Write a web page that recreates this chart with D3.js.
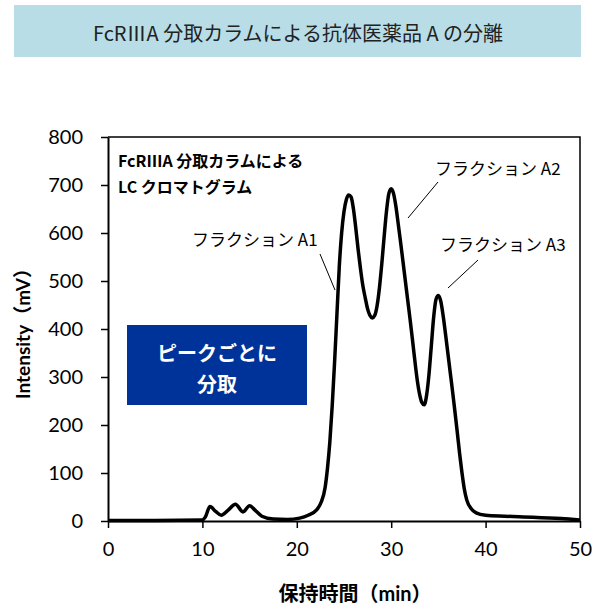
<!DOCTYPE html>
<html>
<head>
<meta charset="utf-8">
<script src="https://cdn.jsdelivr.net/npm/d3@7/dist/d3.min.js"></script>
<style>
  html, body { margin: 0; padding: 0; background: #fff; }
  svg { display: block; }
</style>
</head>
<body>
<svg id="chart" width="593" height="610"></svg>
<script>
// Chromatogram trace: retention time (min) and detector signal (mV)
const retentionTime = [0, 5, 10, 10.3, 10.8, 11.4, 12.0, 12.7, 13.5, 14.3, 15.0, 15.6, 16.3, 17.5, 19, 20.3, 21.2, 22.1, 22.6,
  23.0, 23.25, 23.5, 23.75, 24.0, 24.25, 24.5, 24.75, 25.0, 25.25, 25.5, 25.75, 26.0, 26.25, 26.5, 26.75,
  27.0, 27.25, 27.5, 27.75, 28.0, 28.25, 28.5, 28.75, 29.0, 29.25, 29.5, 29.75, 30.0, 30.25, 30.5, 30.75,
  31.0, 31.25, 31.5, 31.75, 32.0, 32.25, 32.5, 32.75, 33.0, 33.25, 33.5, 33.75, 34.0, 34.25, 34.5, 34.75,
  35.0, 35.25, 35.5, 35.75, 36.0, 36.25, 36.5, 36.75, 37.0, 37.25, 37.5, 37.75, 38.0, 38.5, 39, 40, 42, 45, 48, 50];
const intensity = [1, 1, 2, 8, 30, 20, 12, 22, 35, 19, 32, 22, 10, 4, 3, 6, 12, 23, 40,
  70, 110, 165, 240, 330, 430, 530, 600, 645, 670, 679, 675, 650, 610, 565, 525,
  490, 465, 442, 428, 423, 428, 448, 485, 535, 592, 645, 682, 692, 682, 655, 618,
  580, 540, 500, 460, 420, 378, 335, 295, 265, 247, 242, 262, 305, 365, 425, 462,
  470, 458, 428, 390, 350, 310, 270, 228, 185, 140, 100, 66, 44, 25, 17, 12, 10, 8, 5, 2];

const xTicks = [0, 10, 20, 30, 40, 50];
const yTicks = [0, 100, 200, 300, 400, 500, 600, 700, 800];

const titleText = "FcRⅢA 分取カラムによる抗体医薬品 A の分離";
const chartLabel = ["FcRⅢA  分取カラムによる", "LC クロマトグラム"];
const fractionLabels = ["フラクション A1", "フラクション A2", "フラクション A3"];
const boxLabel = ["ピークごとに", "分取"];
const xTitle = "保持時間（min）";
const yTitle = "Intensity（mV）";

const svg = d3.select("#chart");
const jp = "'Noto Sans CJK JP', sans-serif";
const num = "Lato, 'Noto Sans CJK JP', sans-serif";

const plot = { left: 108, right: 580, top: 137, bottom: 521 };
const x = d3.scaleLinear().domain([0, 50]).range([plot.left, plot.right]);
const y = d3.scaleLinear().domain([0, 800]).range([plot.bottom, plot.top]);

// Title banner
svg.append("rect").attr("x", 14).attr("y", 5).attr("width", 567).attr("height", 52)
  .attr("fill", "#b8dde7");
svg.append("text").attr("x", 298).attr("y", 32)
  .attr("text-anchor", "middle").attr("dominant-baseline", "central")
  .attr("font-family", jp).attr("font-size", 20).attr("fill", "#222")
  .text(titleText);

// Plot frame (top and right)
svg.append("path")
  .attr("d", `M${plot.left},${plot.top}H${plot.right}V${plot.bottom}`)
  .attr("fill", "none").attr("stroke", "#000").attr("stroke-width", 1.5);

// Axes
const xAxis = svg.append("g").attr("transform", `translate(0,${plot.bottom})`)
  .call(d3.axisBottom(x).tickValues(xTicks).tickSize(7).tickPadding(14).tickSizeOuter(0));
const yAxis = svg.append("g").attr("transform", `translate(${plot.left},0)`)
  .call(d3.axisLeft(y).tickValues(yTicks).tickSize(7).tickPadding(18).tickSizeOuter(0));
[xAxis, yAxis].forEach(g => {
  g.select(".domain").attr("stroke", "#000").attr("stroke-width", 2);
  g.selectAll(".tick line").attr("stroke", "#000").attr("stroke-width", 1.5);
  g.selectAll(".tick text").attr("font-family", num).attr("font-size", 20).attr("fill", "#000");
});

// Axis titles
svg.append("text").attr("x", 355).attr("y", 601)
  .attr("text-anchor", "middle")
  .attr("font-family", num).attr("font-weight", "bold").attr("font-size", 20)
  .text(xTitle);
svg.append("text")
  .attr("transform", `translate(22,${(plot.top + plot.bottom) / 2}) rotate(-90)`)
  .attr("text-anchor", "middle").attr("dominant-baseline", "central")
  .attr("font-family", num).attr("font-weight", "bold").attr("font-size", 19)
  .text(yTitle);

// Chromatogram trace
const trace = retentionTime.map((t, i) => [t, intensity[i]]);
svg.append("path").datum(trace)
  .attr("d", d3.line().x(d => x(d[0])).y(d => y(d[1])).curve(d3.curveMonotoneX))
  .attr("fill", "none").attr("stroke", "#000").attr("stroke-width", 3.5)
  .attr("stroke-linejoin", "round");

// Chart label inside plot
chartLabel.forEach((s, i) => {
  svg.append("text").attr("x", 118).attr("y", 160 + i * 26)
    .attr("dominant-baseline", "central")
    .attr("font-family", jp).attr("font-weight", "bold").attr("font-size", 16)
    .text(s);
});

// Fraction annotations with leader lines
const annos = [
  { label: fractionLabels[0], tx: 192, ty: 238, line: [[320, 254], [335, 290]] },
  { label: fractionLabels[1], tx: 435, ty: 167, line: [[438, 182], [408, 218]] },
  { label: fractionLabels[2], tx: 440, ty: 243, line: [[478, 260], [448, 288]] }
];
annos.forEach(a => {
  svg.append("text").attr("x", a.tx).attr("y", a.ty)
    .attr("dominant-baseline", "central")
    .attr("font-family", jp).attr("font-size", 17).attr("fill", "#000")
    .text(a.label);
  svg.append("line")
    .attr("x1", a.line[0][0]).attr("y1", a.line[0][1])
    .attr("x2", a.line[1][0]).attr("y2", a.line[1][1])
    .attr("stroke", "#000").attr("stroke-width", 1);
});

// Callout box
svg.append("rect").attr("x", 127).attr("y", 325).attr("width", 180).attr("height", 80)
  .attr("fill", "#003399");
boxLabel.forEach((s, i) => {
  svg.append("text").attr("x", 217).attr("y", 352 + i * 31)
    .attr("text-anchor", "middle").attr("dominant-baseline", "central")
    .attr("font-family", jp).attr("font-weight", "bold").attr("font-size", 20)
    .attr("fill", "#fff").text(s);
});
</script>
</body>
</html>
